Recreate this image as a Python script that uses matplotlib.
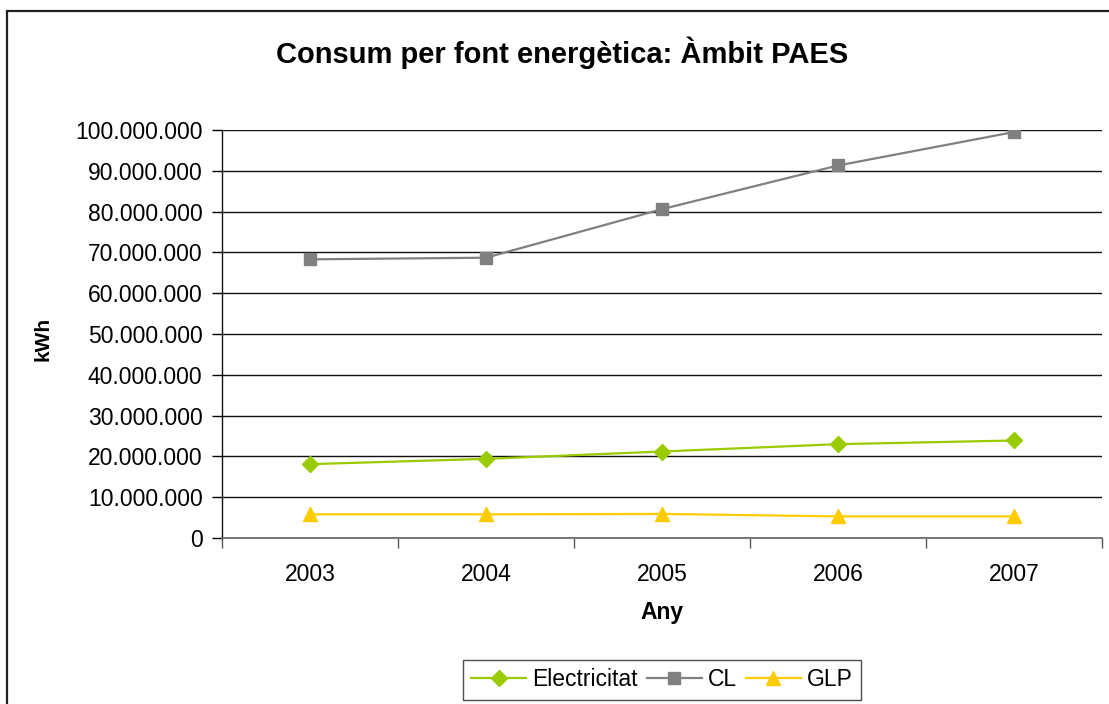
import matplotlib
matplotlib.use("Agg")
import matplotlib.pyplot as plt
from matplotlib.patches import Rectangle
from matplotlib.ticker import FuncFormatter, FixedLocator

plt.rcParams['font.family'] = ['Liberation Sans', 'DejaVu Sans']

years = ["2003", "2004", "2005", "2006", "2007"]
electricitat = [18.1e6, 19.4e6, 21.2e6, 23.0e6, 23.9e6]
cl = [68.3e6, 68.7e6, 80.6e6, 91.3e6, 99.5e6]
glp = [5.8e6, 5.8e6, 5.9e6, 5.3e6, 5.3e6]

title = "Consum per font energètica: Àmbit PAES"
xlabel = "Any"
ylabel = "kWh"

W, H = 1109, 704
fig = plt.figure(figsize=(W / 100, H / 100), dpi=100)
fig.patch.set_facecolor("white")

# outer chart frame (only top and left edges fall inside the image)
fig.patches.append(Rectangle((7 / W, -0.2), 1.5, 1.2 - 11 / H,
                             transform=fig.transFigure, fill=False,
                             edgecolor="#222222", linewidth=1.6, zorder=0))

ax = fig.add_axes([222 / W, 1 - 538 / H, (1102 - 222) / W, (538 - 130) / H])

x = list(range(len(years)))
ax.plot(x, electricitat, color="#99CC00", marker="D", markersize=8.5,
        linewidth=1.6, label="Electricitat", zorder=3)
ax.plot(x, cl, color="#808080", marker="s", markersize=8,
        linewidth=1.6, label="CL", zorder=3)
ax.plot(x, glp, color="#FFCC00", marker="^", markersize=10,
        linewidth=1.6, label="GLP", zorder=3)

ax.set_xlim(-0.5, len(years) - 0.5)
ax.set_ylim(0, 100e6)
ax.set_yticks(range(0, 100_000_001, 10_000_000))
ax.yaxis.set_major_formatter(FuncFormatter(lambda v, p: f"{int(v):,}".replace(",", ".")))
ax.grid(axis="y", color="#111111", linewidth=1.0)
ax.set_axisbelow(True)

ax.set_xticks(x)
ax.set_xticklabels(years)
ax.xaxis.set_minor_locator(FixedLocator([i - 0.5 for i in range(len(years) + 1)]))
ax.tick_params(axis="x", which="major", length=0, pad=18, labelsize=16.5)
ax.tick_params(axis="x", which="minor", length=7, width=1.0, color="#555555", direction="out")
ax.tick_params(axis="y", which="major", length=7, width=1.0, pad=7, labelsize=16.5)

for side in ("top", "right"):
    ax.spines[side].set_visible(False)
ax.spines["left"].set_color("#111111")
ax.spines["bottom"].set_color("#666666")
ax.spines["left"].set_linewidth(1.0)
ax.spines["bottom"].set_linewidth(1.2)

ax.set_xlabel(xlabel, fontsize=16.5, fontweight="bold", labelpad=11)
ax.set_ylabel(ylabel, fontsize=15, fontweight="bold")
ax.yaxis.set_label_coords((53 - 222) / (1102 - 222), 0.487)

fig.text(562 / W, 1 - 53 / H, title, ha="center", va="center",
         fontsize=21, fontweight="bold")

leg = ax.legend(loc="center", bbox_to_anchor=(0.5, (538 - 680) / (538 - 130)),
                ncol=3, frameon=True, fancybox=False, fontsize=16.5,
                handlelength=2.4, handletextpad=0.25, columnspacing=0.4,
                borderpad=0.35, borderaxespad=0, edgecolor="#222222")
leg.get_frame().set_linewidth(1.0)

fig.savefig("out.png", dpi=100, facecolor="white")
